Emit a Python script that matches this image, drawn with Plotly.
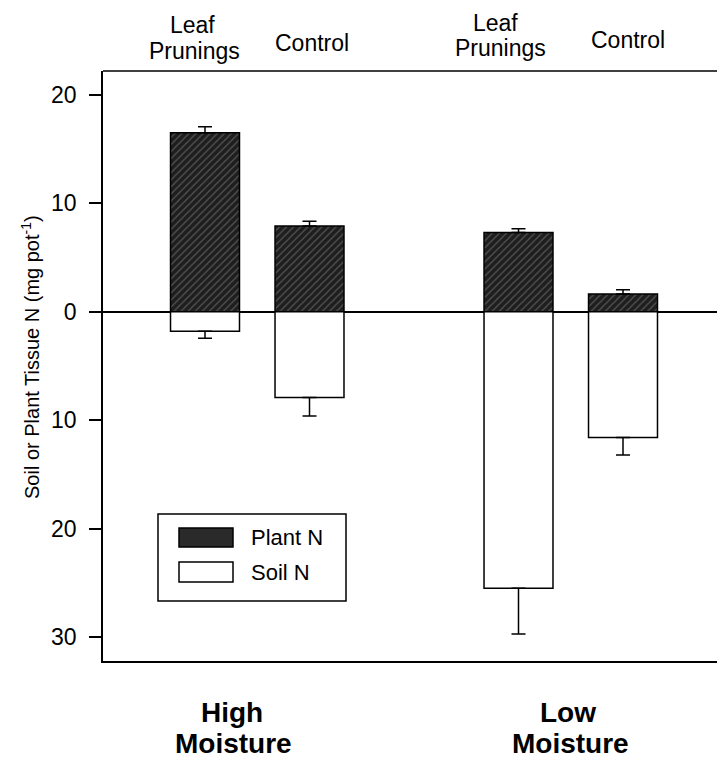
import plotly.graph_objects as go

# ---- data ----
treatments = ["Leaf Prunings", "Control", "Leaf Prunings", "Control"]
moisture = ["High Moisture", "Low Moisture"]
x_pos = [0, 1, 3, 4]
plant_n = [16.5, 7.9, 7.3, 1.65]
plant_err = [0.55, 0.45, 0.35, 0.37]
soil_n = [1.8, 7.9, 25.5, 11.6]
soil_err = [0.65, 1.7, 4.2, 1.6]
tick_vals = [-30, -20, -10, 0, 10, 20]
tick_text = ["30", "20", "10", "0", "10", "20"]

FONT = "Liberation Sans, Arial, Helvetica, sans-serif"

# page geometry helpers (page is offset by the 8px body margin)
PL, PT, PW, PH = 103, 71, 620, 590
def px(xpage):
    return (xpage - PL) / PW
def py(ypage):
    return (PT + PH - ypage) / PH
def dx(xpage):
    return (xpage - 205) / 104.5

fig = go.Figure()

fig.add_trace(go.Bar(
    x=x_pos, y=plant_n, name="Plant N", width=0.66,
    marker=dict(color="#1e1e1e", line=dict(color="black", width=1.5),
                pattern=dict(shape="/", fgcolor="#8c8c8c", bgcolor="#1e1e1e",
                             size=5, solidity=0.25)),
    error_y=dict(type="data", symmetric=False, array=plant_err,
                 arrayminus=[0] * 4, color="black", thickness=1.5, width=7),
    showlegend=False,
))
fig.add_trace(go.Bar(
    x=x_pos, y=[-v for v in soil_n], name="Soil N", width=0.66,
    marker=dict(color="white", line=dict(color="black", width=1.5)),
    error_y=dict(type="data", symmetric=False, array=[0] * 4,
                 arrayminus=soil_err, color="black", thickness=1.5, width=7),
    showlegend=False,
))

fig.update_layout(
    width=717, height=750,
    margin=dict(l=95, r=2, t=63, b=97),
    paper_bgcolor="white", plot_bgcolor="white",
    barmode="overlay",
    font=dict(family=FONT, color="black"),
    xaxis=dict(range=[dx(103), dx(723)], showticklabels=False, ticks="",
               showgrid=False, zeroline=False, showline=True,
               linecolor="black", linewidth=1.5, mirror=False),
    yaxis=dict(range=[-32.2, 22.2], tickvals=tick_vals, ticktext=tick_text,
               ticks="outside", ticklen=12, tickwidth=1.5, tickcolor="black",
               tickfont=dict(size=23), ticklabelstandoff=8, showgrid=False,
               zeroline=True, zerolinecolor="black", zerolinewidth=1.5,
               showline=True, linecolor="black", linewidth=1.5),
)

# frame: top and partial right edge
fig.add_shape(type="line", xref="paper", yref="paper", x0=0, x1=1, y0=1, y1=1,
              line=dict(color="black", width=1.5))
fig.add_shape(type="line", xref="paper", yref="y", x0=1, x1=1, y0=1.5, y1=22.2,
              line=dict(color="black", width=1.5))

# top treatment labels (one annotation per text line)
top_lines = [
    ("Leaf", 192, 25), ("Prunings", 194, 51), ("Control", 312, 43),
    ("Leaf", 495, 23), ("Prunings", 500, 48), ("Control", 628, 40),
]
for txt, xpage, ypage in top_lines:
    fig.add_annotation(x=dx(xpage), y=py(ypage), xref="x", yref="paper", text=txt,
                       showarrow=False, font=dict(size=23),
                       xanchor="center", yanchor="middle")

# bottom moisture labels
bottom_lines = [
    ("High", 232, 712), ("Moisture", 233, 743),
    ("Low", 568, 712), ("Moisture", 570, 743),
]
for txt, xpage, ypage in bottom_lines:
    fig.add_annotation(x=dx(xpage), y=py(ypage), xref="x", yref="paper",
                       text="<b>" + txt + "</b>", showarrow=False,
                       font=dict(size=28), xanchor="center", yanchor="middle")

# y axis title
fig.add_annotation(x=px(30), y=py(357), xref="paper", yref="paper",
                   text="Soil or Plant Tissue N (mg pot<sup>-1</sup>)",
                   textangle=-90, showarrow=False, font=dict(size=20),
                   xanchor="center", yanchor="middle")

# custom legend box
fig.add_shape(type="rect", xref="paper", yref="paper", x0=px(158), x1=px(346),
              y0=py(601), y1=py(514),
              line=dict(color="black", width=1.5), fillcolor="white")
fig.add_shape(type="rect", xref="paper", yref="paper", x0=px(179), x1=px(233),
              y0=py(547), y1=py(528),
              line=dict(color="black", width=1.5), fillcolor="#2a2a2a")
fig.add_shape(type="rect", xref="paper", yref="paper", x0=px(179), x1=px(233),
              y0=py(582), y1=py(562),
              line=dict(color="black", width=1.5), fillcolor="white")
for label, ypage in [("Plant N", 537), ("Soil N", 572)]:
    fig.add_annotation(x=px(249), y=py(ypage), xref="paper", yref="paper",
                       text=label, showarrow=False, xanchor="left", yanchor="middle",
                       font=dict(size=22))

fig.write_html("out.html")
